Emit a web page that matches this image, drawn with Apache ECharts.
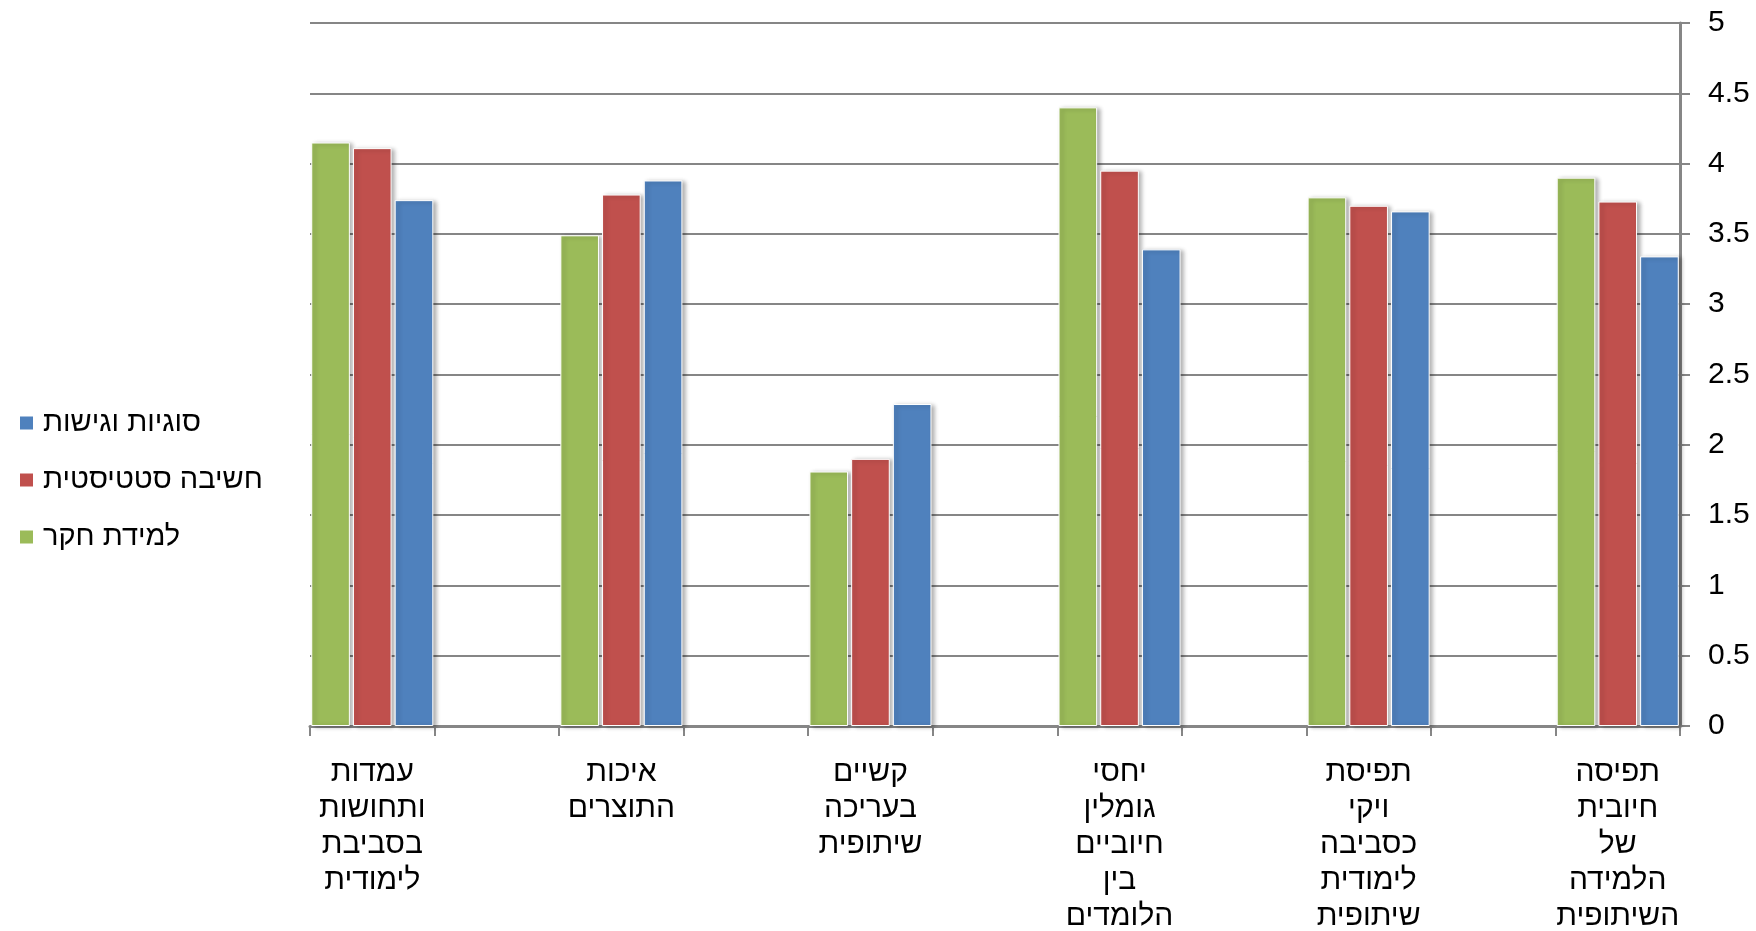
<!DOCTYPE html>
<html>
<head>
<meta charset="utf-8">
<script src="https://cdn.jsdelivr.net/npm/echarts@6/dist/echarts.min.js"></script>
<style>
html,body{margin:0;padding:0;background:#fff;}
#chart{width:1756px;height:931px;}
</style>
</head>
<body>
<div id="chart"></div>
<script>
// Group labels in the reference's order (rightmost first; axis is inverted)
const groupLabels = [
  'תפיסה חיובית של הלמידה השיתופית',
  'תפיסת ויקי כסביבה לימודית שיתופית',
  'יחסי גומלין חיוביים בין הלומדים',
  'קשיים בעריכה שיתופית',
  'איכות התוצרים',
  'עמדות ותחושות בסביבת לימודית'
];
const seriesNames = ['סוגיות וגישות', 'חשיבה סטטיסטית', 'למידת חקר'];
const inquiryLearning = [3.90, 3.76, 4.40, 1.81, 3.49, 4.15];   // למידת חקר (green)
const statThinking    = [3.73, 3.70, 3.95, 1.90, 3.78, 4.11];   // חשיבה סטטיסטית (red)
const issuesApproach  = [3.34, 3.66, 3.39, 2.29, 3.88, 3.74];   // סוגיות וגישות (blue)
const yTicks = [0, 0.5, 1, 1.5, 2, 2.5, 3, 3.5, 4, 4.5, 5];

// Excel-style chart: empty spacer categories between groups
function pad(arr, fill) {
  const out = [];
  arr.forEach((v, i) => { out.push(v); if (i < arr.length - 1) out.push(fill); });
  return out;
}
const categories = pad(groupLabels, '');

const FONT = '"Liberation Sans", Arial, "DejaVu Sans", sans-serif';
const chart = echarts.init(document.getElementById('chart'));

const barStyle = (color) => ({
  color: color,
  borderColor: '#ffffff',
  borderWidth: 1,
  shadowColor: 'rgba(0,0,0,0.30)',
  shadowBlur: 4,
  shadowOffsetX: 3,
  shadowOffsetY: 1
});

chart.setOption({
  animation: false,
  backgroundColor: '#ffffff',
  textStyle: { fontFamily: FONT },
  grid: { left: 310, right: 76, top: 23, bottom: 205, containLabel: false, outerBoundsMode: 'none' },
  legend: {
    orient: 'vertical',
    left: 13,
    top: 403,
    itemWidth: 15,
    itemHeight: 15,
    itemGap: 27,
    icon: 'rect',
    data: seriesNames,
    textStyle: { fontFamily: FONT, fontSize: 29, color: '#000', lineHeight: 30, padding: [0, 0, 0, 4] }
  },
  xAxis: {
    type: 'category',
    inverse: true,
    data: categories,
    axisLine: { lineStyle: { color: '#868686', width: 3 } },
    axisTick: { show: true, length: 10, lineStyle: { color: '#868686', width: 2 } },
    axisLabel: {
      interval: 0,
      margin: 29,
      fontFamily: FONT,
      fontSize: 30,
      lineHeight: 36,
      color: '#000',
      formatter: (v) => v.split(' ').join('\n')
    },
    splitLine: { show: false }
  },
  yAxis: {
    type: 'value',
    position: 'right',
    min: yTicks[0],
    max: yTicks[yTicks.length - 1],
    interval: yTicks[1] - yTicks[0],
    axisLine: { show: true, lineStyle: { color: '#868686', width: 3 } },
    axisTick: { show: true, length: 10, lineStyle: { color: '#868686', width: 2 } },
    axisLabel: { margin: 28, align: 'left', fontFamily: FONT, fontSize: 30, color: '#000' },
    splitLine: { show: true, lineStyle: { color: '#868686', width: 2 } }
  },
  series: [
    { name: seriesNames[2], type: 'bar', data: pad(inquiryLearning, null), barCategoryGap: '2%', barGap: '8%', itemStyle: barStyle('#9BBB59') },
    { name: seriesNames[1], type: 'bar', data: pad(statThinking, null), barCategoryGap: '2%', barGap: '8%', itemStyle: barStyle('#C0504D') },
    { name: seriesNames[0], type: 'bar', data: pad(issuesApproach, null), barCategoryGap: '2%', barGap: '8%', itemStyle: barStyle('#4F81BD') }
  ]
});
</script>
</body>
</html>
